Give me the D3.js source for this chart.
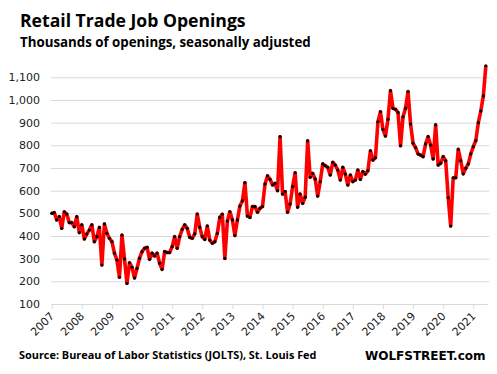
<!DOCTYPE html>
<html lang="en">
<head>
    <meta charset="UTF-8">
    <title>Retail Trade Job Openings</title>
    <script src="https://d3js.org/d3.v7.min.js"></script>
    <style>
        body { margin: 0; background: #fff; }
        .title { font: bold 17.6px "Open Sans", sans-serif; fill: #000; }
        .subtitle { font: bold 13.3px "Open Sans", sans-serif; fill: #000; }
        .source { font: bold 10.9px "Open Sans", sans-serif; fill: #000; }
        .brand { font: bold 12px "DejaVu Sans", sans-serif; fill: #000; }
        .axis text { font: 11px "DejaVu Sans", sans-serif; fill: #222; }
    </style>
</head>
<body>
<svg id="chart" width="497" height="374"></svg>
<script>
    // Year tick labels (one per January)
    var years = ["2007","2008","2009","2010","2011","2012","2013","2014",
                 "2015","2016","2017","2018","2019","2020","2021"];

    // Monthly openings in thousands, Jan 2007 - Jun 2021
    var openings = [
        500, 503, 471, 485, 434, 507, 497, 459, 459, 441, 485, 415,   // 2007
        449, 387, 409, 426, 449, 375, 397, 438, 272, 453, 412, 390,   // 2008
        375, 324, 294, 218, 404, 299, 191, 282, 262, 215, 257, 302,   // 2009
        331, 346, 350, 297, 324, 312, 324, 280, 253, 331, 327, 327,   // 2010
        353, 397, 346, 397, 429, 449, 434, 394, 390, 409, 497, 438,   // 2011
        397, 385, 444, 382, 368, 375, 412, 482, 496, 301, 466, 507,   // 2012
        471, 402, 471, 532, 555, 635, 488, 482, 530, 530, 505, 522,   // 2013
        530, 629, 665, 650, 625, 632, 600, 838, 585, 596, 505, 541,   // 2014
        618, 679, 527, 585, 544, 571, 820, 659, 676, 651, 576, 640,   // 2015
        718, 710, 703, 669, 725, 713, 691, 647, 703, 673, 625, 669,   // 2016
        640, 647, 691, 650, 684, 673, 688, 776, 735, 745, 904, 948,   // 2017
        870, 841, 915, 1041, 963, 959, 945, 798, 926, 963, 1037, 894, // 2018
        809, 790, 762, 757, 750, 806, 838, 801, 740, 890, 713, 721,   // 2019
        750, 732, 569, 444, 657, 657, 782, 732, 674, 699, 718, 762,   // 2020
        794, 821, 900, 951, 1018, 1151                                // 2021
    ];

    var yTicks = [100, 200, 300, 400, 500, 600, 700, 800, 900, 1000, 1100];

    var svg = d3.select("#chart");

    var plotLeft = 51.7, plotRight = 490, plotTop = 77.3, plotBottom = 304;

    var x = d3.scaleLinear()
        .domain([0, 168])
        .range([plotLeft, 473.3]);

    var y = d3.scaleLinear()
        .domain([100, 1100])
        .range([plotBottom, plotTop]);

    // Titles
    svg.append("text").attr("class", "title")
        .attr("x", 20).attr("y", 27)
        .text("Retail Trade Job Openings");
    svg.append("text").attr("class", "subtitle")
        .attr("x", 20).attr("y", 47)
        .text("Thousands of openings, seasonally adjusted");

    // Gridlines + y labels
    var yAxis = svg.append("g")
        .attr("class", "axis")
        .attr("transform", "translate(" + (plotLeft - 0.7) + ",0)")
        .call(d3.axisLeft(y)
            .tickValues(yTicks)
            .tickSize(-(plotRight - plotLeft))
            .tickPadding(11)
            .tickFormat(d3.format(",")));
    yAxis.select(".domain").remove();
    yAxis.selectAll(".tick line").attr("stroke", "#d9d9d9").attr("stroke-width", 1);
    yAxis.selectAll(".tick").filter(d => d === 100).select("line").remove();

    // X axis
    var xAxis = svg.append("g")
        .attr("class", "axis")
        .attr("transform", "translate(0," + plotBottom + ")")
        .call(d3.axisBottom(x)
            .tickValues(d3.range(0, 169, 12))
            .tickSize(5)
            .tickSizeOuter(0)
            .tickFormat((d, i) => years[i]));
    xAxis.select(".domain")
        .attr("stroke", "#d9d9d9")
        .attr("d", "M" + plotLeft + ",0.5H" + (x(openings.length - 1) + 2));
    xAxis.selectAll(".tick line").attr("stroke", "#d9d9d9");
    xAxis.selectAll(".tick text")
        .attr("text-anchor", "end")
        .attr("x", 0)
        .attr("y", 0)
        .attr("dx", 0)
        .attr("dy", "0.35em")
        .attr("transform", "translate(0,10) rotate(-45)");

    // Line
    var line = d3.line()
        .x((d, i) => x(i))
        .y(d => y(d));

    svg.append("path")
        .datum(openings)
        .attr("fill", "none")
        .attr("stroke", "#ff0000")
        .attr("stroke-width", 3.6)
        .attr("stroke-linejoin", "round")
        .attr("d", line);

    svg.selectAll(".dot")
        .data(openings)
        .enter().append("circle")
        .attr("class", "dot")
        .attr("cx", (d, i) => x(i))
        .attr("cy", d => y(d))
        .attr("r", 1.6)
        .attr("fill", "#000");

    // Footer
    svg.append("text").attr("class", "source")
        .attr("x", 19).attr("y", 359)
        .text("Source: Bureau of Labor Statistics (JOLTS), St. Louis Fed");
    svg.append("text").attr("class", "brand")
        .attr("x", 365).attr("y", 360)
        .text("WOLFSTREET.com");
</script>
</body>
</html>
